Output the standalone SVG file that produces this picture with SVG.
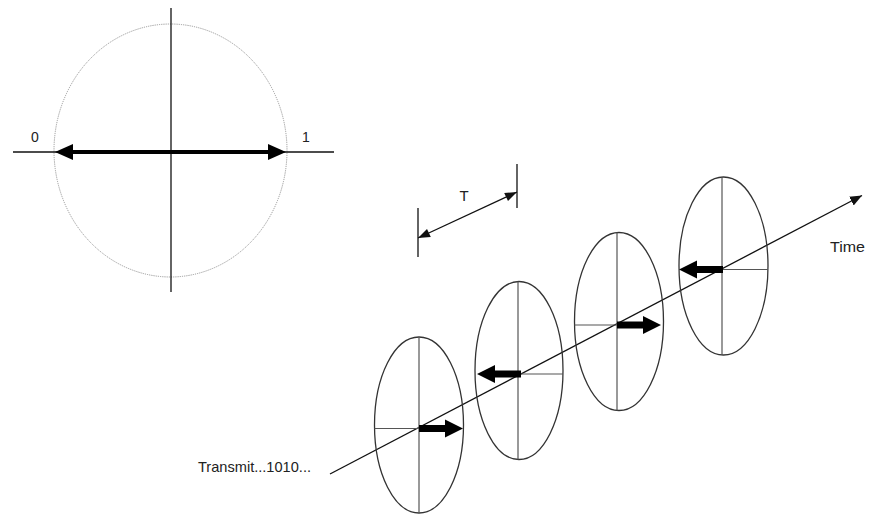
<svg xmlns="http://www.w3.org/2000/svg" width="875" height="514" viewBox="0 0 875 514">
<style>
.lbl{font-family:"Liberation Sans",Arial,sans-serif;fill:#222}
.ell{fill:none;stroke:#333;stroke-width:1.3}
.inner{stroke:#555;stroke-width:1.2}
.ax{stroke:#111;stroke-width:1.3;fill:none}
.head{fill:#111}
.fat{fill:#000}
</style>
<defs>
<path id="fat" d="M0,-3.5 H26 V-9 L44,0 L26,9 V3.5 H0 Z"/>
<marker id="ah" markerWidth="12" markerHeight="10" refX="12" refY="5" orient="auto" markerUnits="userSpaceOnUse">
<path d="M0,0 L12,5 L0,10 Z" fill="#111"/>
</marker>
</defs>
<rect width="875" height="514" fill="#fff"/>

<g id="constellation">
<ellipse cx="170.5" cy="150.5" rx="116.5" ry="126.5" fill="none" stroke="#999" stroke-width="1" stroke-dasharray="1.2 1"/>
<line x1="171" y1="8" x2="171" y2="292" class="ax"/>
<line x1="13" y1="152" x2="334" y2="152" class="ax"/>
<line x1="68" y1="152" x2="273" y2="152" stroke="#000" stroke-width="4"/>
<polygon points="55,152 73,144 73,160" class="fat"/>
<polygon points="286,152 268,144 268,160" class="fat"/>
<text x="35" y="142" class="lbl" font-size="14" text-anchor="middle">0</text>
<text x="306" y="142" class="lbl" font-size="14" text-anchor="middle">1</text>
</g>

<g id="connectors">
<line x1="330" y1="474" x2="862" y2="195.5" class="ax" marker-end="url(#ah)"/>
<line x1="517" y1="164" x2="517" y2="208" class="ax"/>
<line x1="418" y1="208" x2="418" y2="257" class="ax"/>
<line x1="418" y1="238" x2="517" y2="192" stroke="#111" stroke-width="1.2"/>
<polygon points="517,192 508,201.1 504.2,193" class="head"/>
<polygon points="418,238 430.8,237 427,228.9" class="head"/>
<text x="464" y="201" class="lbl" font-size="15" text-anchor="middle">T</text>
</g>

<g id="symbol1">
<ellipse cx="419" cy="425" rx="44.5" ry="88" class="ell"/>
<line x1="419" y1="337" x2="419" y2="513" class="inner"/>
<line x1="374.5" y1="428.5" x2="419" y2="428.5" class="inner"/>
<use href="#fat" transform="translate(419,428.5)" class="fat"/>
</g>

<g id="symbol2">
<ellipse cx="519" cy="370.5" rx="44" ry="89" class="ell"/>
<line x1="518" y1="281.5" x2="518" y2="459.5" class="inner"/>
<line x1="518" y1="374" x2="563" y2="374" class="inner"/>
<use href="#fat" transform="translate(521,374) scale(-1,1)" class="fat"/>
</g>

<g id="symbol3">
<ellipse cx="619" cy="321.5" rx="44.5" ry="89" class="ell"/>
<line x1="617" y1="232.5" x2="617" y2="410.5" class="inner"/>
<line x1="574.5" y1="325" x2="617" y2="325" class="inner"/>
<use href="#fat" transform="translate(617,325)" class="fat"/>
</g>

<g id="symbol4">
<ellipse cx="723.5" cy="266" rx="44.5" ry="89" class="ell"/>
<line x1="722" y1="177" x2="722" y2="355" class="inner"/>
<line x1="722" y1="269.5" x2="768" y2="269.5" class="inner"/>
<use href="#fat" transform="translate(723,269.5) scale(-1,1)" class="fat"/>
</g>

<text x="830" y="252" class="lbl" font-size="14" textLength="35" lengthAdjust="spacingAndGlyphs">Time</text>
<text x="198" y="472" class="lbl" font-size="15" textLength="113" lengthAdjust="spacingAndGlyphs">Transmit...1010...</text>
</svg>
